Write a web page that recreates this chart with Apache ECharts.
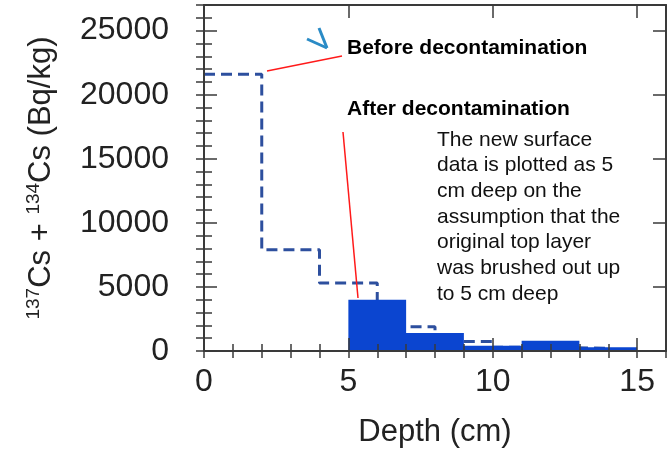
<!DOCTYPE html>
<html>
<head>
<meta charset="utf-8">
<script src="https://cdn.jsdelivr.net/npm/echarts@6/dist/echarts.min.js"></script>
<style>
  html, body { margin: 0; padding: 0; background: #fff; }
  #container { width: 671px; height: 453px; }
</style>
</head>
<body>
<div id="container"></div>
<script>
  // step data (depth edges in cm, activity in Bq/kg)
  var beforeEdges = [0, 2, 4, 6, 8, 10, 12, 14];
  var beforeValues = [21600, 7900, 5300, 1900, 750, 300, 200];
  var afterEdges = [5, 7, 9, 11, 13, 15];
  var afterValues = [4000, 1400, 400, 800, 300];
  var depthMax = 16;
  var activityMax = 27000;

  var font = "'Liberation Sans', Arial, sans-serif";

  function steps(edges, values) {
    return edges.map(function (e, i) {
      return [e, values[Math.min(i, values.length - 1)]];
    });
  }

  var dom = document.getElementById('container');
  var myChart = echarts.init(dom, null, { renderer: 'canvas' });

  var frame = { show: true, onZero: false, lineStyle: { color: '#3a3a3a', width: 2 } };
  var noLine = { show: false };

  // one axis helper: long ticks every "step", or short ones
  function axis(kind, pos, step, len, withLine) {
    return {
      type: 'value',
      position: pos,
      min: 0,
      max: kind === 'x' ? depthMax : activityMax,
      interval: step,
      z: 10,
      axisLine: withLine ? frame : noLine,
      axisTick: { show: true, inside: true, length: len, lineStyle: { color: '#3a3a3a', width: 1.5 } },
      axisLabel: { show: false },
      splitLine: { show: false }
    };
  }

  var xMain = axis('x', 'bottom', 5, 13, true);
  xMain.axisLabel = {
    show: true, showMaxLabel: false, margin: 15,
    fontFamily: font, fontSize: 32, color: '#222'
  };
  xMain.name = 'Depth (cm)';
  xMain.nameLocation = 'middle';
  xMain.nameGap = 66;
  xMain.nameTextStyle = { fontFamily: font, fontSize: 31, color: '#222' };

  var yMain = axis('y', 'left', 5000, 13, true);
  yMain.axisLabel = {
    show: true, showMaxLabel: false, margin: 35,
    fontFamily: font, fontSize: 32, color: '#222',
    formatter: function (v) { return String(v); }
  };
  yMain.name = '{sup|137}{m|Cs + }{sup|134}{m|Cs (Bq/kg)}';
  yMain.nameLocation = 'middle';
  yMain.nameGap = 146;
  yMain.nameTextStyle = {
    color: '#222',
    rich: {
      m: { fontFamily: font, fontSize: 31, color: '#222', lineHeight: 34 },
      sup: { fontFamily: font, fontSize: 19, color: '#222', lineHeight: 20, verticalAlign: 'top' }
    }
  };

  var option = {
    animation: false,
    grid: { left: 204, right: 5, top: 5, bottom: 99, containLabel: false },
    xAxis: [
      xMain,
      axis('x', 'bottom', 1, 7, false),
      axis('x', 'top', 5, 13, true),
      axis('x', 'top', 1, 7, false)
    ],
    yAxis: [
      yMain,
      axis('y', 'left', 1000, 8, false),
      axis('y', 'right', 5000, 13, true),
      axis('y', 'right', 1000, 8, false)
    ],
    series: [
      {
        name: 'Before decontamination',
        type: 'line',
        step: 'end',
        showSymbol: false,
        z: 2,
        data: steps(beforeEdges, beforeValues),
        lineStyle: { color: '#2d4f9e', width: 3, type: [11, 6] }
      },
      {
        name: 'After decontamination',
        type: 'line',
        step: 'end',
        showSymbol: false,
        z: 3,
        data: steps(afterEdges, afterValues),
        lineStyle: { width: 0 },
        areaStyle: { color: '#0b45d0', opacity: 1 }
      }
    ],
    graphic: [
      { type: 'polyline', z: 20, shape: { points: [[307, 39], [327, 48]] }, style: { stroke: '#2a8bc6', lineWidth: 3 } },
      { type: 'polyline', z: 20, shape: { points: [[319, 28], [327, 48]] }, style: { stroke: '#2a8bc6', lineWidth: 3 } },
      { type: 'line', z: 20, shape: { x1: 267, y1: 71, x2: 342, y2: 56 }, style: { stroke: '#ff1a1a', lineWidth: 1.5 } },
      { type: 'line', z: 20, shape: { x1: 343, y1: 132, x2: 358, y2: 298 }, style: { stroke: '#ff1a1a', lineWidth: 1.5 } },
      {
        type: 'text', z: 20, x: 347, y: 38,
        style: { text: 'Before decontamination', font: 'bold 21px ' + font, fill: '#000', verticalAlign: 'top' }
      },
      {
        type: 'text', z: 20, x: 347, y: 99,
        style: { text: 'After decontamination', font: 'bold 21px ' + font, fill: '#000', verticalAlign: 'top' }
      },
      {
        type: 'text', z: 20, x: 437, y: 127,
        style: {
          text: 'The new surface\ndata is plotted as 5\ncm deep on the\nassumption that the\noriginal top layer\nwas brushed out up\nto 5 cm deep',
          font: '21px ' + font, fill: '#111', lineHeight: 25.7, verticalAlign: 'top'
        }
      }
    ]
  };

  if (option && typeof option === 'object') {
    myChart.setOption(option);
  }

  window.addEventListener('resize', myChart.resize);
</script>
</body>
</html>
